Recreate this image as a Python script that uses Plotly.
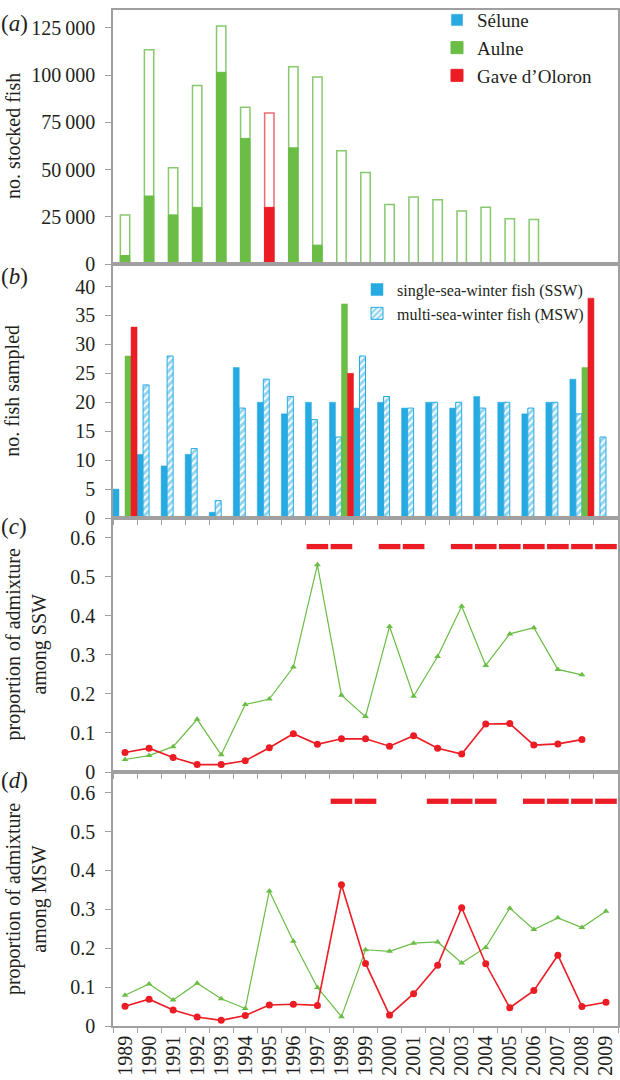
import plotly.graph_objects as go
from plotly.subplots import make_subplots

years = list(range(1989, 2010))

# (a) stocked fish: outline = total, filled = part
aulne_total = [26000, 113500, 51000, 94500, 126000, 83000, None, 104500, 99000, 60000,
               48500, 31500, 35500, 34000, 28000, 30000, 24000, 23500, None, None, None]
aulne_part = [4500, 36000, 26000, 30000, 101500, 66500, None, 61500, 10000, None,
              None, None, None, None, None, None, None, None, None, None, None]
gave_total = [None] * 6 + [80000] + [None] * 14
gave_part = [None] * 6 + [30000] + [None] * 14
stock_ticks = [0, 25000, 50000, 75000, 100000, 125000]
stock_labels = ["0", "25\u2009000", "50\u2009000", "75\u2009000", "100\u2009000", "125\u2009000"]

# (b) fish sampled
ssw = [5, 11, 9, 11, 1, 26, 20, 18, 20, 20, 19, 20, 19, 20, 19, 21, 20, 18, 20, 24, None]
msw = [None, 23, 28, 12, 3, 19, 24, 21, 17, 14, 28, 21, 19, 20, 20, 19, 20, 19, 20, 18, 14]
aulne_sampled = [28] + [None] * 8 + [37] + [None] * 9 + [26, None]
gave_sampled = [33] + [None] * 8 + [25] + [None] * 9 + [38, None]

# (c) admixture among SSW
aulne_ssw = [0.032, 0.042, 0.065, 0.135, 0.044, 0.173, 0.187, 0.269, 0.531, 0.197, 0.142,
             0.373, 0.194, 0.296, 0.425, 0.273, 0.354, 0.370, 0.263, 0.249, None]
gave_ssw = [0.050, 0.061, 0.037, 0.019, 0.019, 0.029, 0.062, 0.098, 0.071, 0.085, 0.085,
            0.066, 0.093, 0.061, 0.046, 0.123, 0.124, 0.069, 0.072, 0.083, None]
sig_ssw = [1997, 1998, 2000, 2001, 2003, 2004, 2005, 2006, 2007, 2008, 2009]

# (d) admixture among MSW
aulne_msw = [0.079, 0.108, 0.067, 0.110, 0.070, 0.045, 0.347, 0.218, 0.099, 0.024, 0.196,
             0.192, 0.213, 0.216, 0.162, 0.202, 0.303, 0.248, 0.278, 0.253, 0.295]
gave_msw = [0.051, 0.069, 0.041, 0.023, 0.0145, 0.027, 0.054, 0.056, 0.053, 0.363, 0.161,
            0.028, 0.083, 0.156, 0.304, 0.160, 0.047, 0.091, 0.182, 0.050, 0.061]
sig_msw = [1998, 1999, 2002, 2003, 2004, 2006, 2007, 2008, 2009]

BLUE = "#27aae1"
GREEN = "#6abd45"
GREEN_LIGHT = "#86c96e"
RED = "#ec1c24"
GRAY = "#a0a0a0"
TEXT = "#231f20"
FONT = "Liberation Serif, Times New Roman, serif"

fig = make_subplots(rows=4, cols=1, vertical_spacing=0)

# panel a
fig.add_trace(go.Bar(x=[None], y=[None], name="Sélune", marker_color=BLUE,
                     legend="legend"), row=1, col=1)
fig.add_trace(go.Bar(x=years, y=aulne_total, width=0.39, offset=-0.195, showlegend=False,
                     marker=dict(color="white", line=dict(color=GREEN_LIGHT, width=1.5))), row=1, col=1)
fig.add_trace(go.Bar(x=years, y=aulne_part, width=0.39, offset=-0.195, name="Aulne",
                     legend="legend",
                     marker=dict(color=GREEN, line=dict(color=GREEN, width=1))), row=1, col=1)
fig.add_trace(go.Bar(x=years, y=gave_total, width=0.39, offset=-0.195, showlegend=False,
                     marker=dict(color="white", line=dict(color="#f06a6f", width=1.5))), row=1, col=1)
fig.add_trace(go.Bar(x=years, y=gave_part, width=0.39, offset=-0.195, name="Gave d\u2019Oloron",
                     legend="legend",
                     marker=dict(color=RED, line=dict(color=RED, width=1))), row=1, col=1)

# panel b
fig.add_trace(go.Bar(x=years, y=ssw, width=0.25, offset=-0.5, name="single-sea-winter fish (SSW)",
                     legend="legend2",
                     marker=dict(color=BLUE, line=dict(color=BLUE, width=0.5))), row=2, col=1)
fig.add_trace(go.Bar(x=years, y=msw, width=0.25, offset=-0.25, name="multi-sea-winter fish (MSW)",
                     legend="legend2",
                     marker=dict(color="white", line=dict(color=BLUE, width=1),
                                 pattern=dict(shape="/", fgcolor=BLUE, bgcolor="white",
                                              size=5, solidity=0.6))), row=2, col=1)
fig.add_trace(go.Bar(x=years, y=aulne_sampled, width=0.25, offset=0, showlegend=False,
                     marker=dict(color=GREEN, line=dict(color=GREEN, width=0.5))), row=2, col=1)
fig.add_trace(go.Bar(x=years, y=gave_sampled, width=0.25, offset=0.25, showlegend=False,
                     marker=dict(color=RED, line=dict(color=RED, width=0.5))), row=2, col=1)

# panels c and d
for r, aul, gav, sig in [(3, aulne_ssw, gave_ssw, sig_ssw), (4, aulne_msw, gave_msw, sig_msw)]:
    fig.add_trace(go.Bar(x=sig, y=[0.0135] * len(sig), base=0.571, width=0.9, offset=-0.45,
                         showlegend=False, marker=dict(color=RED, line=dict(width=0))), row=r, col=1)
    fig.add_trace(go.Scatter(x=years, y=aul, mode="lines+markers", showlegend=False,
                             line=dict(color=GREEN, width=1.2),
                             marker=dict(symbol="triangle-up", size=6, color=GREEN)), row=r, col=1)
    fig.add_trace(go.Scatter(x=years, y=gav, mode="lines+markers", showlegend=False,
                             line=dict(color=RED, width=1.6),
                             marker=dict(symbol="circle", size=7, color=RED)), row=r, col=1)

axis_common = dict(showline=True, linecolor=GRAY, linewidth=1.5, mirror=True,
                   showgrid=False, zeroline=False, automargin=False)
for r in range(1, 5):
    xa = dict(axis_common, range=[1988.5, 2009.5], tickmode="linear", tick0=1989, dtick=1,
              ticks="", showticklabels=(r == 4))
    if r > 1:
        xa["minor"] = dict(ticks="outside", ticklen=5, tickcolor=GRAY, tickwidth=1,
                           tick0=1988.5, dtick=1, showgrid=False)
    fig.update_xaxes(xa, row=r, col=1)

fig.update_xaxes(tickangle=-90, tickfont=dict(family=FONT, size=20, color=TEXT),
                 row=4, col=1)

ya = dict(axis_common, ticks="outside", ticklen=6, tickcolor=GRAY, tickwidth=1,
          tickfont=dict(family=FONT, size=20, color=TEXT), ticklabelstandoff=6)
fig.update_yaxes(ya, range=[0, 134500], tickvals=stock_ticks, ticktext=stock_labels, row=1, col=1)
fig.update_yaxes(ya, range=[0, 43.9], tick0=0, dtick=5, row=2, col=1)
fig.update_yaxes(ya, range=[0, 0.651], tick0=0, dtick=0.1, row=3, col=1)
fig.update_yaxes(ya, range=[0, 0.653], tick0=0, dtick=0.1, row=4, col=1)

W, H = 620, 1080
ML, MR, MT, MB = 113, 2, 1, 54
pw, ph = W - ML - MR, H - MT - MB


def px(x):
    return (x - ML) / pw


def py(y):
    return 1 - (y - MT) / ph


titles = [
    ("no. stocked fish", 13, 128),
    ("no. fish sampled", 13, 385),
    ("proportion of admixture<br>among SSW", 26, 641),
    ("proportion of admixture<br>among MSW", 26, 898),
]
for text, x, y in titles:
    fig.add_annotation(text=text, xref="paper", yref="paper", x=px(x), y=py(y),
                       textangle=-90, showarrow=False, xanchor="center", yanchor="middle",
                       font=dict(family=FONT, size=20, color=TEXT))

letters = [("a", 15), ("b", 270), ("c", 522), ("d", 778)]
for letter, y in letters:
    fig.add_annotation(text="(<i>%s</i>)" % letter, xref="paper", yref="paper",
                       x=px(-1), y=py(y), showarrow=False, xanchor="left", yanchor="middle",
                       font=dict(family=FONT, size=23, color=TEXT))

fig.update_layout(
    width=W, height=H,
    margin=dict(l=ML, r=MR, t=MT, b=MB),
    paper_bgcolor="white", plot_bgcolor="white",
    font=dict(family=FONT, color=TEXT),
    legend=dict(x=px(437), y=py(-8), xanchor="left", yanchor="top", traceorder="normal",
                font=dict(family=FONT, size=19, color=TEXT), bgcolor="rgba(0,0,0,0)",
                itemwidth=30),
    legend2=dict(x=px(357), y=py(266), xanchor="left", yanchor="top", traceorder="normal",
                 font=dict(family=FONT, size=16, color=TEXT), bgcolor="rgba(0,0,0,0)",
                 itemwidth=30),
)

fig.write_html("out.html", post_script="document.body.style.margin='0';",
               config={"displayModeBar": False})
